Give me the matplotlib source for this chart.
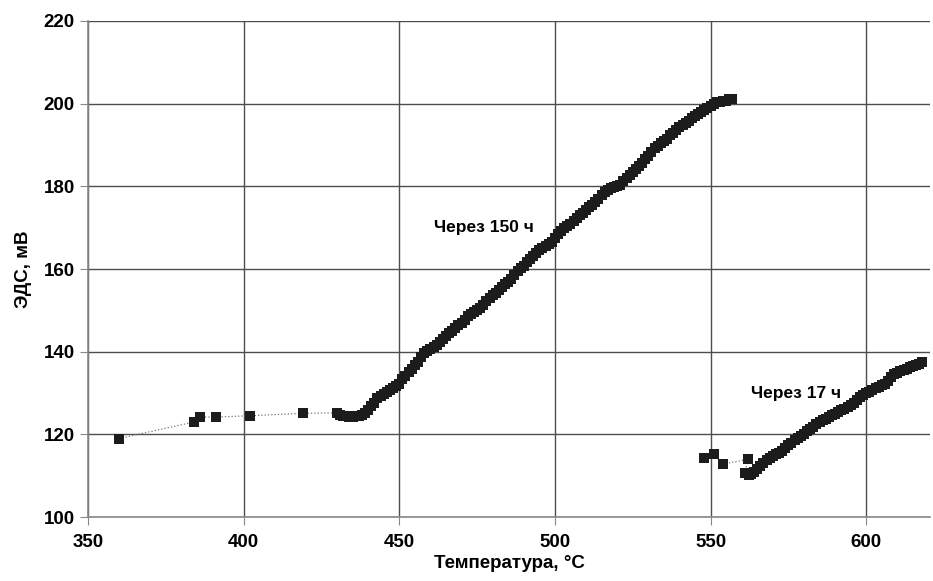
import matplotlib.pyplot as plt
from matplotlib import font_manager

# Через 150 ч
t150 = [360, 384, 386, 391, 402, 419, 430, 431, 432, 433, 434, 435, 436, 437, 438, 439,
        440, 441, 442, 443, 444, 445, 446, 447, 448, 449, 450, 451, 452, 453, 454, 455,
        456, 457, 458, 459, 460, 461, 462, 463, 464, 465, 466, 467, 468, 469, 470, 471,
        472, 473, 474, 475, 476, 477, 478, 479, 480, 481, 482, 483, 484, 485, 486, 487,
        488, 489, 490, 491, 492, 493, 494, 495, 496, 497, 498, 499, 500, 501, 502, 503,
        504, 505, 506, 507, 508, 509, 510, 511, 512, 513, 514, 515, 516, 517, 518, 519,
        520, 521, 522, 523, 524, 525, 526, 527, 528, 529, 530, 531, 532, 533, 534, 535,
        536, 537, 538, 539, 540, 541, 542, 543, 544, 545, 546, 547, 548, 549, 550, 551,
        552, 553, 554, 555, 556, 557]
e150 = [119.0, 123.0, 124.2, 124.2, 124.5, 125.1, 125.2, 124.8, 124.5, 124.4, 124.3, 124.3,
        124.4, 124.4, 124.6, 125.2, 125.8, 126.9, 127.6, 128.8, 129.4, 129.8, 130.3, 130.7,
        131.2, 131.6, 132.3, 133.4, 134.2, 135.0, 135.8, 136.9, 137.6, 138.8, 139.6, 140.1,
        140.6, 141.2, 141.7, 142.4, 143.1, 143.8, 144.6, 145.0, 145.7, 146.5, 146.9, 147.6,
        148.6, 149.2, 149.7, 150.2, 150.6, 151.2, 152.3, 153.0, 153.6, 154.3, 155.0, 155.7,
        156.4, 156.9, 157.6, 158.5, 159.4, 160.2, 160.8, 161.6, 162.3, 163.1, 163.9, 164.6,
        165.0, 165.5, 166.0, 166.6, 167.4, 168.4, 169.1, 169.8, 170.3, 170.9, 171.6, 172.4,
        173.0, 173.6, 174.3, 175.0, 175.6, 176.3, 176.9, 177.8, 178.6, 179.2, 179.6, 179.8,
        180.0, 180.4, 181.2, 182.0, 182.8, 183.5, 184.1, 184.9, 185.6, 186.5, 187.4, 188.4,
        189.2, 189.8, 190.4, 190.9, 191.5, 192.3, 193.0, 193.7, 194.3, 194.8, 195.3, 195.9,
        196.4, 196.9, 197.4, 197.9, 198.4, 198.9, 199.4, 199.9, 200.3, 200.5, 200.6, 200.7,
        201.0, 201.2]

# Через 17 ч
t17 = [548, 551, 554, 562, 561, 562.5, 563, 564, 565, 566, 567, 568, 569, 570, 571, 572,
       573, 574, 575, 576, 577, 578, 579, 580, 581, 582, 583, 584, 585, 586, 587, 588,
       589, 590, 591, 592, 593, 594, 595, 596, 597, 598, 599, 600, 601, 602, 603, 604,
       605, 606, 607, 608, 609, 610, 611, 612, 613, 614, 615, 616, 617, 618]
e17 = [114.2, 115.2, 112.8, 114.0, 110.6, 110.3, 110.4, 110.8, 111.6, 112.4, 113.0, 113.8,
       114.3, 114.8, 115.2, 115.6, 116.1, 116.8, 117.4, 118.0, 118.6, 119.2, 119.7, 120.2,
       120.7, 121.3, 121.9, 122.5, 123.0, 123.4, 123.8, 124.2, 124.6, 125.0, 125.4, 125.8,
       126.2, 126.6, 127.1, 127.7, 128.4, 129.0, 129.5, 129.9, 130.3, 130.7, 131.1, 131.5,
       131.9, 132.3, 133.0, 133.9, 134.5, 134.9, 135.3, 135.6, 135.9, 136.2, 136.5, 136.8,
       137.1, 137.4]

x_ticks = [350, 400, 450, 500, 550, 600]
y_ticks = [100, 120, 140, 160, 180, 200, 220]

names = {f.name for f in font_manager.fontManager.ttflist}
FONT = ["Liberation Sans Narrow"] if "Liberation Sans Narrow" in names else ["Liberation Sans"]
plt.rcParams["font.family"] = FONT + ["DejaVu Sans"]
plt.rcParams["font.weight"] = "bold"

fig = plt.figure(figsize=(9.33, 5.81), dpi=100)
ax = fig.add_axes([0.0943, 0.110, 0.9025, 0.854])

for xs, ys in [(t150, e150), (t17, e17)]:
    ax.plot(xs, ys, linestyle=":", color="#777777", linewidth=0.9, zorder=2)
    ax.plot(xs, ys, linestyle="none", marker="s", markersize=7,
            color="#1c1c1c", markeredgewidth=0, zorder=3)

ax.text(461, 170, "Через 150 ч", fontsize=12.5, fontweight="bold", va="center", ha="left")
ax.text(563, 130, "Через 17 ч", fontsize=12.5, fontweight="bold", va="center", ha="left")

ax.set_xlim(350, 620.5)
ax.set_ylim(100, 220)
ax.set_xticks(x_ticks)
ax.set_yticks(y_ticks)
ax.grid(True, color="#4d4d4d", linewidth=1.0)
ax.set_axisbelow(True)
for side in ["top", "right"]:
    ax.spines[side].set_visible(False)
for side in ["left", "bottom"]:
    ax.spines[side].set_color("#888888")
    ax.spines[side].set_linewidth(1.2)
ax.tick_params(direction="out", length=6, color="#888888", labelsize=13.5)
ax.tick_params(axis="x", pad=6)
ax.set_xlabel("Температура, °С", fontsize=13.5, fontweight="bold", labelpad=3)
ax.set_ylabel("ЭДС, мВ", fontsize=13.5, fontweight="bold", labelpad=8)

fig.savefig("out.png", dpi=100)
